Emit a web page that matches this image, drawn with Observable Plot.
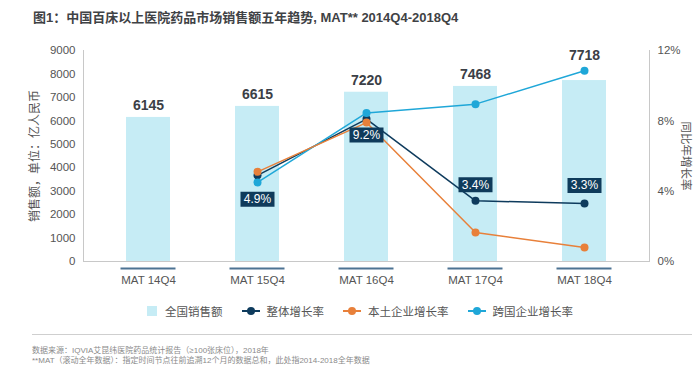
<!DOCTYPE html>
<html><head><meta charset="utf-8">
<script src="https://cdn.jsdelivr.net/npm/d3@7"></script>
<script src="https://cdn.jsdelivr.net/npm/@observablehq/plot@0.6"></script>
<style>
body{margin:0;background:#fff;font-family:"Liberation Sans",Arial,"Noto Sans CJK SC",sans-serif;}
#wrap{position:relative;width:700px;height:377px;overflow:hidden;background:#fff;}
#title{position:absolute;left:33px;top:10px;font-size:13px;font-weight:bold;color:#3f4245;white-space:nowrap;line-height:16px;}
#chart{position:absolute;left:0;top:40px;}
#legend{position:absolute;left:147px;top:303px;display:flex;align-items:center;font-size:11.5px;color:#555;white-space:nowrap;}
#legend .item{display:flex;align-items:center;margin-right:19px;}
#legend .sw{width:10px;height:10px;margin-right:8px;}
#legend svg{margin-right:7px;}
#sep{position:absolute;left:32px;top:334px;width:660px;border-top:1px solid #cfcfcf;}
#foot{position:absolute;left:32px;top:346px;font-size:8px;line-height:10px;color:#8a8a8a;white-space:nowrap;}
</style></head>
<body>
<div id="wrap">
  <div id="title"></div>
  <div id="chart"></div>
  <div id="legend"></div>
  <div id="sep"></div>
  <div id="foot"></div>
</div>
<script>
const titleText = "图1：中国百床以上医院药品市场销售额五年趋势, MAT** 2014Q4-2018Q4";
const categories = ["MAT 14Q4", "MAT 15Q4", "MAT 16Q4", "MAT 17Q4", "MAT 18Q4"];
const sales = [6145, 6615, 7220, 7468, 7718];
const growthCategories = ["MAT 15Q4", "MAT 16Q4", "MAT 17Q4", "MAT 18Q4"];
const overallGrowth = [4.9, 8.1, 3.45, 3.3];
const domesticGrowth = [5.1, 7.9, 1.65, 0.8];
const multinationalGrowth = [4.5, 8.45, 8.95, 10.85];
const overallLabels = ["4.9%", "9.2%", "3.4%", "3.3%"];
const salesTicks = [0, 1000, 2000, 3000, 4000, 5000, 6000, 7000, 8000, 9000];
const pctTicks = [0, 4, 8, 12];
const seriesNames = ["全国销售额", "整体增长率", "本土企业增长率", "跨国企业增长率"];
const leftLabel = "销售额，单位：亿人民币";
const rightLabel = "同比年增长率";
const footLines = [
  "数据来源：IQVIA艾昆纬医院药品统计报告（≥100张床位），2018年",
  "**MAT（滚动全年数据）：指定时间节点往前追溯12个月的数据总和，此处指2014-2018全年数据"
];

const colors = {bar: "#c6ecf5", overall: "#0e3b5d", domestic: "#e8803a", multi: "#1fa7d8", box: "#0f3b5b"};
const K = 9000 / 12; // percent -> left-axis units

document.getElementById("title").textContent = titleText;
document.getElementById("foot").innerHTML = footLines.map(t => `<div>${t.replace(/&/g,"&amp;").replace(/</g,"&lt;")}</div>`).join("");

const bars = categories.map((c, i) => ({cat: c, value: sales[i]}));
const mk = arr => growthCategories.map((c, i) => ({cat: c, pct: arr[i], label: overallLabels[i]}));
const overall = mk(overallGrowth), domestic = mk(domesticGrowth), multi = mk(multinationalGrowth);

const boxSymbol = {draw(ctx) { ctx.rect(-17, -7.5, 34, 15); }};
function label(i, dy) {
  const d = [overall[i]];
  return [
    Plot.dot(d, {x: "cat", y: r => r.pct * K, symbol: boxSymbol, fill: colors.box, stroke: "none", dy}),
    Plot.text(d, {x: "cat", y: r => r.pct * K, text: "label", fill: "#fff", fontSize: 12, dy})
  ];
}
function barLabel(rows, dy) {
  return Plot.text(rows, {x: "cat", y: "value", text: d => String(d.value), dy, fontSize: 14, fontWeight: "bold", fill: "#3b4046"});
}

const plot = Plot.plot({
  width: 700, height: 250,
  marginTop: 10, marginBottom: 29, marginLeft: 83, marginRight: 51,
  style: {fontFamily: '"Liberation Sans", Arial, "Noto Sans CJK SC", sans-serif', fontSize: "11.5px", background: "transparent", overflow: "visible"},
  x: {domain: categories, paddingInner: 0.6, paddingOuter: 0, insetLeft: 42, insetRight: 42},
  y: {domain: [0, 9000]},
  marks: [
    Plot.barY(bars, {x: "cat", y: "value", fill: colors.bar}),
    barLabel(bars.slice(0, 4), -12),
    barLabel(bars.slice(4), -25),
    Plot.frame({anchor: "left", stroke: "#c8c8c8"}),
    Plot.frame({anchor: "right", stroke: "#c8c8c8"}),
    Plot.ruleY([0], {stroke: "#c8c8c8"}),
    Plot.tickY(categories, {x: d => d, y: () => 0, dy: 7, stroke: "#4d7393", strokeWidth: 2, insetLeft: -5.5, insetRight: -5.5}),
    Plot.axisY({anchor: "left", ticks: salesTicks, tickFormat: d3.format("d"), tickSize: 0, tickPadding: 8, label: null, color: "#555"}),
    Plot.axisY({anchor: "right", ticks: pctTicks.map(p => p * K), tickFormat: v => Math.round(v / K) + "%", tickSize: 0, tickPadding: 8, label: null, color: "#555"}),
    Plot.axisX({tickSize: 0, tickPadding: 14, label: null, color: "#555"}),
    Plot.text([leftLabel], {text: d => d, frameAnchor: "left", textAnchor: "middle", rotate: -90, dx: -48, fontSize: 12, fill: "#555"}),
    Plot.text([rightLabel], {text: d => d, frameAnchor: "right", textAnchor: "middle", rotate: 90, dx: 36, fontSize: 11.5, fill: "#555"}),
    Plot.line(overall, {x: "cat", y: d => d.pct * K, stroke: colors.overall, strokeWidth: 1.5}),
    Plot.dot(overall, {x: "cat", y: d => d.pct * K, fill: colors.overall, r: 4}),
    Plot.line(multi, {x: "cat", y: d => d.pct * K, stroke: colors.multi, strokeWidth: 1.5}),
    Plot.dot(multi, {x: "cat", y: d => d.pct * K, fill: colors.multi, r: 4}),
    Plot.line(domestic, {x: "cat", y: d => d.pct * K, stroke: colors.domestic, strokeWidth: 1.5}),
    Plot.dot(domestic, {x: "cat", y: d => d.pct * K, fill: colors.domestic, r: 4}),
    ...label(0, 24), ...label(1, 16), ...label(2, -16), ...label(3, -18)
  ]
});
document.getElementById("chart").appendChild(plot);

// legend
const legendColors = [colors.bar, colors.overall, colors.domestic, colors.multi];
const lg = document.getElementById("legend");
seriesNames.forEach((name, i) => {
  const item = document.createElement("div");
  item.className = "item";
  if (i === 0) {
    item.innerHTML = `<div class="sw" style="background:${legendColors[i]}"></div>`;
  } else {
    item.innerHTML = `<svg width="18" height="10"><line x1="0" x2="18" y1="5" y2="5" stroke="${legendColors[i]}" stroke-width="2"/><circle cx="9" cy="5" r="4" fill="${legendColors[i]}"/></svg>`;
  }
  const s = document.createElement("span");
  s.textContent = name;
  item.appendChild(s);
  lg.appendChild(item);
});
</script>
</body></html>
